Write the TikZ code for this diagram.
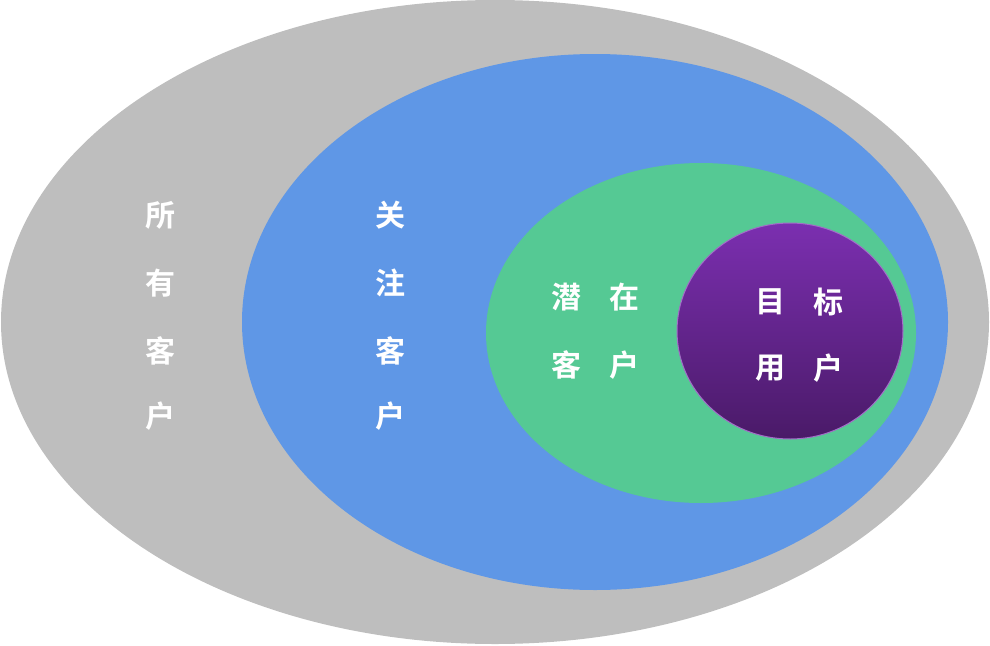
\documentclass[tikz,border=0pt]{standalone}
\usepackage{fontspec}
\newfontfamily\cjk{Noto Sans CJK SC Bold}
\definecolor{cgray}{HTML}{BEBEBE}
\definecolor{cblue}{HTML}{5F97E6}
\definecolor{cgreen}{HTML}{55C994}
\definecolor{ptop}{HTML}{7B2FB0}
\definecolor{pbot}{HTML}{4A1A68}
\begin{document}
\begin{tikzpicture}[x=1pt,y=-1pt,
  lbl/.style={text=white,font=\cjk\fontsize{30}{30}\selectfont,inner sep=0pt}]
\useasboundingbox (0,0) rectangle (990,645);
\fill[cgray] (495,322) ellipse [x radius=494,y radius=322];
\fill[cblue] (595,322) ellipse [x radius=353,y radius=268];
\fill[cgreen] (701,333) ellipse [x radius=215,y radius=170];
\shade[top color=ptop,bottom color=pbot,draw=ptop!70!white,line width=1pt] (790,331) ellipse [x radius=113,y radius=108];
\node[lbl] (a1) at (160,215) {所};
\node[lbl] (a2) at (160,283) {有};
\node[lbl] (a3) at (160,351) {客};
\node[lbl] (a4) at (160,416) {户};
\node[lbl] (b1) at (390,215) {关};
\node[lbl] (b2) at (390,283) {注};
\node[lbl] (b3) at (390,351) {客};
\node[lbl] (b4) at (390,416) {户};
\node[lbl] (c1) at (566,297) {潜};
\node[lbl] (c2) at (624,297) {在};
\node[lbl] (c3) at (566,365) {客};
\node[lbl] (c4) at (624,365) {户};
\node[lbl] (d1) at (770,302) {目};
\node[lbl] (d2) at (828,302) {标};
\node[lbl] (d3) at (770,368) {用};
\node[lbl] (d4) at (828,368) {户};
\end{tikzpicture}
\end{document}
